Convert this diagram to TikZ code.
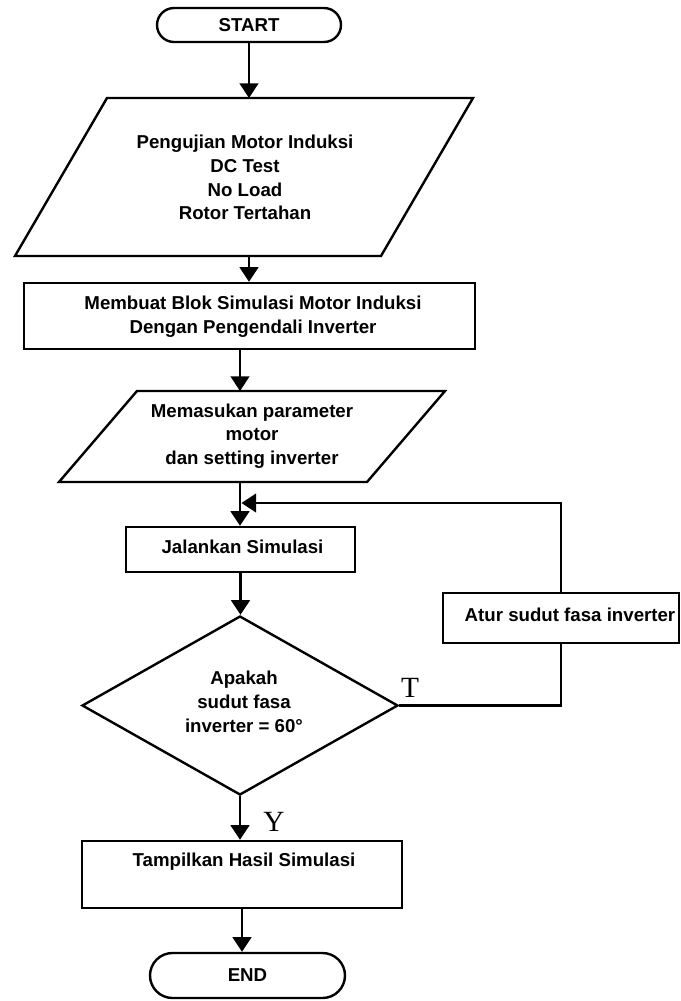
\documentclass[tikz,border=0pt]{standalone}
\usepackage{fontspec}
\setmainfont{Liberation Sans}
\newfontfamily\lblfont{Liberation Serif}
\usetikzlibrary{arrows.meta,shapes.geometric,shapes.misc}
\begin{document}
\begin{tikzpicture}[x=0.75pt,y=-0.75pt,
  shp/.style={draw,line width=1.8pt,line join=miter},
  box/.style={shp,rectangle,inner sep=0pt},
  term/.style={shp,rounded rectangle,inner sep=0pt,font=\fontsize{14}{17.8}\selectfont\bfseries},
  dec/.style={shp,diamond,inner sep=0pt},
  txt/.style={align=center,font=\fontsize{14}{17.8}\selectfont\bfseries,inner sep=0pt},
  lbl/.style={font=\fontsize{22}{24}\selectfont\lblfont,inner sep=0pt},
  arr/.style={line width=1.8pt,-{Triangle[length=11pt,width=14pt]}},
  con/.style={line width=1.8pt}]
\useasboundingbox (0,0) rectangle (681,1001);

% START
\node[term, minimum width=138pt, minimum height=25.5pt] (start) at (249,25) {START};

% Parallelogram 1
\draw[shp] (107,98) -- (473,98) -- (381,256) -- (15,256) -- cycle;
\coordinate (p1n) at (249,98);
\coordinate (p1s) at (249,256);
\node[txt] (p1) at (245,177.5) {Pengujian Motor Induksi\\DC Test\\No Load\\Rotor Tertahan};

% Rect 2
\node[box, minimum width=338.25pt, minimum height=49.5pt] (r2) at (249.5,316) {};
\node[txt] (r2t) at (253,317) {Membuat Blok Simulasi Motor Induksi\\Dengan Pengendali Inverter};

% Parallelogram 2
\draw[shp] (137,391) -- (445,391) -- (367,482) -- (59,482) -- cycle;
\coordinate (p2n) at (240,391);
\coordinate (p2s) at (240,482);
\node[txt] (p2) at (252,436) {Memasukan parameter\\motor\\dan setting inverter};

% Jalankan
\node[box, minimum width=171.75pt, minimum height=33.75pt] (jal) at (240.5,549.5) {};
\node[txt] (jalt) at (242.5,547) {Jalankan Simulasi};
\coordinate (loopin) at (241.5,503);

% Decision
\node[dec, minimum width=237pt, minimum height=134.25pt] (d) at (240,705.5) {};
\node[txt] (dt) at (244,702) {Apakah\\sudut fasa\\inverter = 60°};

% Atur
\node[box, minimum width=177pt, minimum height=37.5pt] (a) at (561,618) {};
\node[txt] (at) at (570,615) {Atur sudut fasa inverter};

% Tampilkan
\node[box, minimum width=240pt, minimum height=50.25pt] (tam) at (242,874.5) {};
\node[txt] (tamt) at (244,862) {Tampilkan Hasil Simulasi};

% END
\node[term, minimum width=146.25pt, minimum height=33.75pt] (end) at (247.5,975.5) {END};

% Labels
\node[lbl] (T) at (410,688) {T};
\node[lbl] (Y) at (274,822) {Y};

% Connectors
\draw[arr] (start.south) -- (p1n);
\draw[arr] (p1s) -- (p1s |- r2.north);
\draw[arr] (p2n |- r2.south) -- (p2n);
\draw[arr] (p2s) -- (p2s |- jal.north);
\draw[arr] (jal.south) -- (jal.south |- d.north);
\draw[arr] (d.south) -- (d.south |- tam.north);
\draw[arr] (tam.south) -- (tam.south |- end.north);
\draw[con] (d.east) -| (a.south);
\draw[arr] (a.north) |- (loopin);
\end{tikzpicture}
\end{document}
